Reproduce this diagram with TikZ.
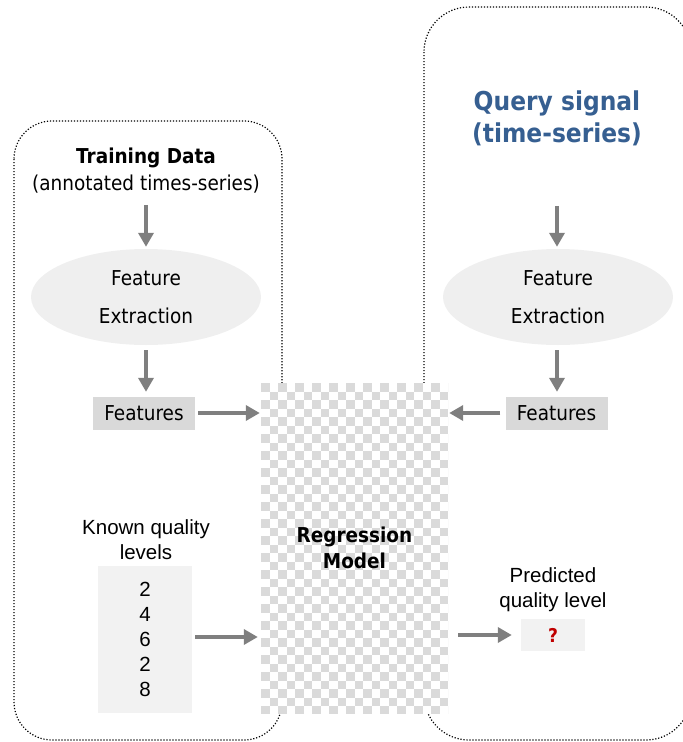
\documentclass[tikz,border=0pt]{standalone}
\usepackage{fontspec}
\newfontfamily\tah{DejaVu Sans}[FakeStretch=0.9]
\newfontfamily\ari{Liberation Sans}
\usetikzlibrary{arrows.meta,shapes.geometric}
\definecolor{arrgray}{HTML}{7F7F7F}
\definecolor{chkgray}{HTML}{DADADA}
\definecolor{featgray}{HTML}{D9D9D9}
\definecolor{ellgray}{HTML}{EFEFEF}
\definecolor{boxgray}{HTML}{F2F2F2}
\definecolor{qblue}{HTML}{365F91}
\definecolor{qred}{HTML}{C00000}
\begin{document}
\begin{tikzpicture}[x=1pt,y=-1pt,
  arr/.style={draw=arrgray, line width=4pt, -{Triangle[length=14pt,width=15pt]}},
  dotbox/.style={draw=black, line width=1.2pt, dash pattern=on 1.2pt off 1.8pt},
  txt/.style={inner sep=0pt, align=center, font=\tah\fontsize{20.5}{27}\selectfont},
  atxt/.style={inner sep=0pt, align=center, font=\ari\fontsize{20.5}{25}\selectfont},
  qtxt/.style={inner sep=0pt, align=center, text=qblue, font=\tah\bfseries\fontsize{26}{32}\selectfont},
  ell/.style={ellipse, fill=ellgray, minimum width=230pt, minimum height=96pt, inner sep=0pt, align=center, font=\tah\fontsize{20.5}{38}\selectfont},
  feat/.style={rectangle, fill=featgray, minimum width=102pt, minimum height=33pt, inner sep=0pt, font=\tah\fontsize{20.5}{25}\selectfont},
  lvbox/.style={rectangle, fill=boxgray, minimum width=94pt, minimum height=147pt, inner sep=0pt, align=center, font=\ari\fontsize{20.5}{25}\selectfont},
  qbox/.style={rectangle, fill=boxgray, minimum width=64pt, minimum height=32pt, inner sep=0pt, text=qred, font=\tah\bfseries\fontsize{19}{24}\selectfont},
  regbox/.style={rectangle, fill=white, minimum width=187pt, minimum height=330pt, inner sep=0pt, align=center,
    font=\tah\bfseries\fontsize{20.5}{26}\selectfont,
    path picture={
      \foreach \j in {0,...,38}{
        \foreach \i in {0,2,...,22}{
          \fill[chkgray] ([xshift={(\i+mod(\j,2))*8.5pt}, yshift={-\j*8.5pt}]path picture bounding box.north west) rectangle ++(8.5,8.5);
        }
      }
    }}
]
\useasboundingbox (0,0) rectangle (683,742);
% dotted group frames
\draw[dotbox, rounded corners=38pt] (14,121) rectangle (282,740);
\draw[dotbox, rounded corners=45pt] (424,7) rectangle (691,740);

% left column
\node[txt] (td) at (146,171) {\textbf{Training Data}\\(annotated times-series)};
\node[ell] (fe1) at (146,297) {Feature\\Extraction};
\node[feat] (f1) at (144,413) {Features};
\node[atxt] (kq) at (146,540) {Known quality\\levels};
\node[lvbox] (lv) at (145,639.5) {2\\4\\6\\2\\8};

% regression model
\node[regbox] (reg) at (354.5,548) {\raisebox{-2pt}{\shortstack{Regression\\[3pt]Model}}};

% right column
\node[qtxt] (q) at (557,118) {Query signal\\(time-series)};
\node[ell] (fe2) at (558,297) {Feature\\Extraction};
\node[feat] (f2) at (556.5,413) {Features};
\node[atxt] (pql) at (553,590) {Predicted\\quality level};
\node[qbox] (pq) at (553,635) {?};

% connectors
\draw[arr, shorten <=11pt, shorten >=2pt] (td.south) -- (td.south |- fe1.north);
\draw[arr, shorten <=5pt, shorten >=4.5pt] (fe1.south) -- (fe1.south |- f1.north);
\draw[arr, shorten <=3pt, shorten >=1pt] (f1.east) -- (f1.east -| reg.west);
\draw[arr, shorten <=3pt, shorten >=3pt] ([yshift=2.5pt]lv.east) -- ([yshift=2.5pt]lv.east -| reg.west);
\draw[arr, shorten <=60pt, shorten >=2pt] (q.south) -- (q.south |- fe2.north);
\draw[arr, shorten <=5pt, shorten >=4.5pt] (q.south |- fe2.south) -- (q.south |- f2.north);
\draw[arr, shorten <=5pt, shorten >=1pt] (f2.west) -- (f2.west -| reg.east);
\draw[arr, shorten <=10pt, shorten >=9pt] (reg.east |- pq.west) -- (pq.west);
\end{tikzpicture}
\end{document}
